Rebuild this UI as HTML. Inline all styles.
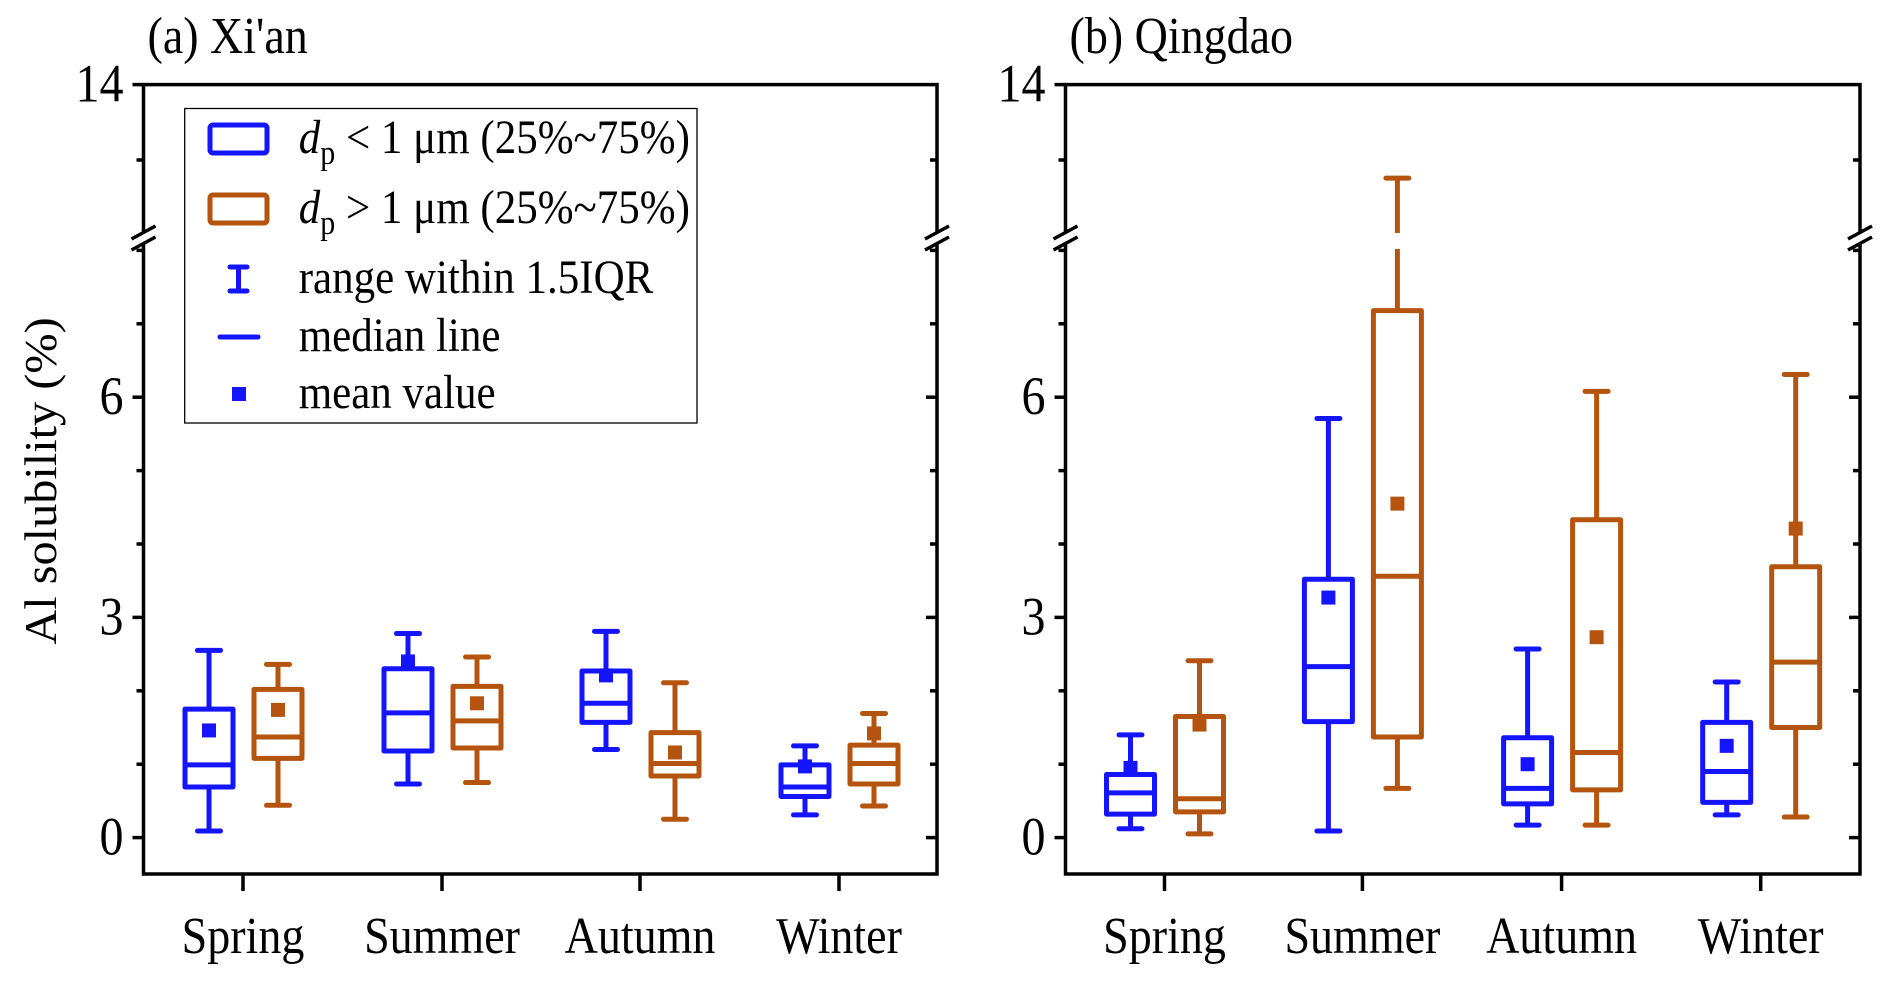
<!DOCTYPE html>
<html><head><meta charset="utf-8">
<style>
html,body{margin:0;padding:0;background:#fff;}
svg{display:block;font-family:"Liberation Serif",serif;}
</style></head>
<body>
<svg id="chart" width="1892" height="983" viewBox="0 0 1892 983"></svg>
<script>
// ---- data ----
const seasons = ["Spring","Summer","Autumn","Winter"];
const panelTitles = ["(a) Xi'an","(b) Qingdao"];
const yTickLabels = ["0","3","6","14"];
const yTickValues = [0,3,6,14];
// [whiskerLow, q1, median, q3, whiskerHigh, mean]
const xianFine   = [[0.09,0.69,0.99,1.75,2.55,1.46],[0.73,1.18,1.70,2.30,2.78,2.40],[1.20,1.57,1.83,2.27,2.81,2.21],[0.31,0.56,0.69,0.99,1.25,0.97]];
const xianCoarse = [[0.44,1.08,1.37,2.02,2.36,1.74],[0.75,1.22,1.59,2.06,2.46,1.83],[0.25,0.84,1.01,1.43,2.11,1.16],[0.43,0.73,1.01,1.26,1.69,1.42]];
const qdFine     = [[0.12,0.32,0.61,0.86,1.40,0.95],[0.09,1.58,2.33,3.52,5.71,3.27],[0.17,0.46,0.67,1.36,2.57,1.00],[0.31,0.48,0.90,1.57,2.12,1.25]];
const qdCoarse   = [[0.05,0.35,0.53,1.65,2.41,1.54],[0.67,1.37,3.56,7.18,12.76,4.55],[0.17,0.65,1.16,4.33,6.08,2.73],[0.28,1.50,2.39,3.69,6.31,4.21]];

const NS="http://www.w3.org/2000/svg";
const svg=document.getElementById('chart');
const BLUE="#1414ff", ORANGE="#b4540e";
function mk(tag,attrs,parent){const e=document.createElementNS(NS,tag);for(const k in attrs)e.setAttribute(k,attrs[k]);(parent||svg).appendChild(e);return e;}
function txt(s,x,y,size,anchor,parent,extra){
  const e=mk('text',Object.assign({x:0,y:0,'font-size':size,'text-anchor':anchor||'start',fill:'#000',transform:`translate(${x},${y}) scale(1,1.12)`},extra||{}),parent);
  e.textContent=s;return e;}

const TOP=84.6, BOT=874, Y0=837.6, PU=73.4, UPU=75.4, BRK=238;
function Y(v){ return v>=11.9 ? TOP+(14-v)*UPU : Y0-PU*v; }

const panels=[{L:143.5,R:937,title:panelTitles[0],fine:xianFine,coarse:xianCoarse,ticks:[243,442,640,839],name:'xian'},
              {L:1065.5,R:1860,title:panelTitles[1],fine:qdFine,coarse:qdCoarse,ticks:[1164.5,1362.4,1561.6,1760.7],name:'qingdao'}];

panels.forEach((p,pi)=>{
  const g=mk('g',{});
  
  
  const t=txt(p.title,p.L+4,53,46,'start',g);
  
  
  const fr=mk('rect',{x:p.L,y:TOP,width:p.R-p.L,height:BOT-TOP,fill:'none',stroke:'#000','stroke-width':3.5},g);
  
  
  for(let v=0;v<=8;v++){
    const y=Y(v), major=(v%3===0);
    const len=major?11:7;
    mk('line',{x1:p.L-len,x2:p.L,y1:y,y2:y,stroke:'#000','stroke-width':3.5},g);
    mk('line',{x1:p.R-len,x2:p.R,y1:y,y2:y,stroke:'#000','stroke-width':3.5},g);
  }
  [13].forEach(v=>{const y=Y(v);
    mk('line',{x1:p.L-7,x2:p.L,y1:y,y2:y,stroke:'#000','stroke-width':3.5},g);
    mk('line',{x1:p.R-7,x2:p.R,y1:y,y2:y,stroke:'#000','stroke-width':3.5},g);});
  mk('line',{x1:p.L-11,x2:p.L,y1:Y(14),y2:Y(14),stroke:'#000','stroke-width':3.5},g);
  yTickValues.forEach((v,i)=>{
    const tl=txt(yTickLabels[i],p.L-20,Y(v)+17,48,'end',g);
    
    
  });
  [p.L,p.R].forEach(ax=>{
    mk('rect',{x:ax-4,y:BRK-5,width:8,height:10,fill:'#fff'},g);
    mk('line',{x1:ax-12,y1:BRK+1,x2:ax+12,y2:BRK-12,stroke:'#000','stroke-width':3.5},g);
    mk('line',{x1:ax-12,y1:BRK+12,x2:ax+12,y2:BRK-1,stroke:'#000','stroke-width':3.5},g);
  });
  seasons.forEach((s,i)=>{
    const x=p.ticks[i];
    mk('line',{x1:x,x2:x,y1:BOT,y2:BOT+17,stroke:'#000','stroke-width':3.5},g);
    const sl=txt(s,x,953,46,'middle',g);
    
    
  });
  function box(d,cx,col,nm){
    const bg=mk('g',{},g);
    
    
    const [lo,q1,med,q3,hi,mean]=d, w=48, cw=23, sw=5;
    if(hi>11.9){
      mk('line',{x1:cx,x2:cx,y1:Y(q3),y2:249,stroke:col,'stroke-width':sw},bg);
      mk('line',{x1:cx,x2:cx,y1:233,y2:Y(hi),stroke:col,'stroke-width':sw},bg);
    } else mk('line',{x1:cx,x2:cx,y1:Y(q3),y2:Y(hi),stroke:col,'stroke-width':sw},bg);
    mk('line',{x1:cx,x2:cx,y1:Y(q1),y2:Y(lo),stroke:col,'stroke-width':sw},bg);
    mk('line',{x1:cx-cw/2,x2:cx+cw/2,y1:Y(hi),y2:Y(hi),stroke:col,'stroke-width':sw,'stroke-linecap':'round'},bg);
    mk('line',{x1:cx-cw/2,x2:cx+cw/2,y1:Y(lo),y2:Y(lo),stroke:col,'stroke-width':sw,'stroke-linecap':'round'},bg);
    mk('rect',{x:cx-w/2,y:Y(q3),width:w,height:Y(q1)-Y(q3),fill:'#fff',stroke:col,'stroke-width':sw,'stroke-linejoin':'round'},bg);
    mk('line',{x1:cx-w/2,x2:cx+w/2,y1:Y(med),y2:Y(med),stroke:col,'stroke-width':sw},bg);
    mk('rect',{x:cx-7,y:Y(mean)-7,width:14,height:14,fill:col},bg);
  }
  seasons.forEach((s,i)=>{
    box(p.fine[i],p.ticks[i]-34,BLUE,'box-fine-'+s.toLowerCase());
    box(p.coarse[i],p.ticks[i]+35,ORANGE,'box-coarse-'+s.toLowerCase());
  });
});

const yt=mk('text',{x:0,y:0,'font-size':46,'text-anchor':'middle',fill:'#000',transform:'translate(56,481) rotate(-90) scale(1.05,1)'});
yt.textContent='Al solubility (%)';



const lg=mk('g',{});


mk('rect',{x:184.7,y:108.5,width:512.3,height:314.5,fill:'#fff',stroke:'#000','stroke-width':1.3},lg);
const rows=[139,209,279,337,394];
mk('rect',{x:210,y:rows[0]-14,width:57,height:28,fill:'none',stroke:BLUE,'stroke-width':5,rx:3},lg);
mk('rect',{x:210,y:rows[1]-14,width:57,height:28,fill:'none',stroke:ORANGE,'stroke-width':5,rx:3},lg);
mk('line',{x1:238.5,x2:238.5,y1:rows[2]-12,y2:rows[2]+12,stroke:BLUE,'stroke-width':5},lg);
mk('line',{x1:230,x2:247,y1:rows[2]-12,y2:rows[2]-12,stroke:BLUE,'stroke-width':5,'stroke-linecap':'round'},lg);
mk('line',{x1:230,x2:247,y1:rows[2]+12,y2:rows[2]+12,stroke:BLUE,'stroke-width':5,'stroke-linecap':'round'},lg);
mk('line',{x1:220,x2:258,y1:rows[3],y2:rows[3],stroke:BLUE,'stroke-width':5,'stroke-linecap':'round'},lg);
mk('rect',{x:232,y:rows[4]-7,width:14,height:14,fill:BLUE},lg);
function legText(row,html,nm){
  const t=mk('text',{x:0,y:0,'font-size':43,fill:'#000',transform:`translate(298.7,${row+14}) scale(1,1.12)`},lg);
  t.innerHTML=html;
  
  
}
legText(rows[0],'<tspan font-style="italic">d</tspan><tspan font-size="30" dy="10">p</tspan><tspan dy="-10"> &lt; 1 μm (25%~75%)</tspan>','legend-entry-fine');
legText(rows[1],'<tspan font-style="italic">d</tspan><tspan font-size="30" dy="10">p</tspan><tspan dy="-10"> &gt; 1 μm (25%~75%)</tspan>','legend-entry-coarse');
legText(rows[2],'range within 1.5IQR','legend-entry-range');
legText(rows[3],'median line','legend-entry-median');
legText(rows[4],'mean value','legend-entry-mean');
</script>
</body></html>
